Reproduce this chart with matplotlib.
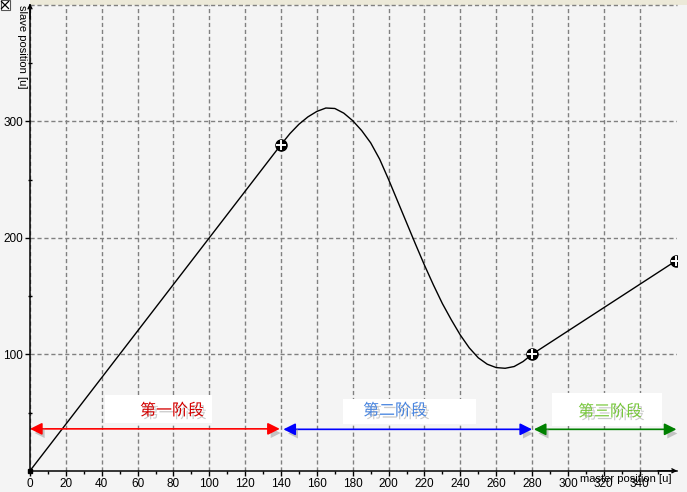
import matplotlib
matplotlib.use('Agg')
import matplotlib.pyplot as plt
from matplotlib.patches import Rectangle, FancyArrowPatch
from matplotlib.lines import Line2D
import matplotlib.patheffects as pe

# ---------------- data ----------------
stage1_x = [0, 140]
stage1_y = [0, 280]
stage2_x = [140, 145, 150, 155, 160, 165, 170, 175, 180, 185, 190, 195, 200, 205,
            210, 215, 220, 225, 230, 235, 240, 245, 250, 255, 260, 265, 270, 275, 280]
stage2_y = [280, 289.5, 297.5, 303.8, 308.5, 311.4, 311.0, 307.0, 300.5, 292, 281.5, 267.5,
            250, 231.5, 213, 194.5, 176.5, 159.5, 143.5, 129.5, 116.5, 105.5, 97, 91.5,
            88.6, 88.0, 89.5, 93.8, 100]
stage3_x = [280, 360]
stage3_y = [100, 180]
point_x = [140, 280, 360]
point_y = [280, 100, 180]

x_ticks = list(range(0, 341, 20))
x_minor = list(range(10, 351, 20))
y_ticks = [100, 200, 300]
y_minor = [50, 150, 250, 350]

stage_labels = ['第一阶段', '第二阶段', '第三阶段']
stage_start = [0, 141.3, 281]
stage_end = [139.3, 280, 360.5]
stage_arrow_y = [36, 35.6, 35.6]
stage_colors = ['#ff0000', '#0000ff', '#008000']
stage_text_colors = ['#d40000', '#4a86e0', '#78c83c']
label_x = [79.2, 203.6, 323.5]
label_y = [51.6, 51.6, 50.7]
box_x0 = [41.8, 174.4, 290.9]
box_x1 = [101.7, 249.0, 352.2]
box_y0 = [41.3, 40.2, 38.7]
box_y1 = [65.1, 61.6, 67.0]

plt.rcParams['font.family'] = ['Liberation Sans', 'Noto Sans CJK SC', 'DejaVu Sans']

W, H = 687, 492
BG = '#f4f4f4'
fig = plt.figure(figsize=(W / 100, H / 100), dpi=100, facecolor=BG)

# top beige strip and small close box
fig.add_artist(Rectangle((30 / W, 1 - 4.8 / H), 1 - 30 / W, 4.8 / H,
                         transform=fig.transFigure, facecolor='#ece9d8',
                         edgecolor='none', zorder=0))
fig.add_artist(Rectangle((0.5 / W, 1 - 9.5 / H), 9 / W, 9 / H,
                         transform=fig.transFigure, facecolor='white',
                         edgecolor='#555555', lw=0.8))
fig.add_artist(Line2D([1.5 / W, 8.5 / W], [1 - 1.5 / H, 1 - 8.5 / H],
                      transform=fig.transFigure, color='black', lw=0.9))
fig.add_artist(Line2D([1.5 / W, 8.5 / W], [1 - 8.5 / H, 1 - 1.5 / H],
                      transform=fig.transFigure, color='black', lw=0.9))

ax = fig.add_axes([30 / W, (H - 470.8) / H, 647.3 / W, 466 / H])
ax.set_facecolor(BG)
ax.set_xlim(0, 361)
ax.set_ylim(0, 400)
for s in ['top', 'right']:
    ax.spines[s].set_visible(False)
for s in ['left', 'bottom']:
    ax.spines[s].set_color('black')
    ax.spines[s].set_linewidth(1.1)

ax.set_xticks(x_ticks)
ax.set_xticks(x_minor, minor=True)
ax.set_yticks(y_ticks)
ax.set_yticks(y_minor, minor=True)
ax.tick_params(axis='both', which='major', direction='out', length=3.6,
               width=1, labelsize=8.5, colors='black', pad=1.5)
ax.tick_params(axis='x', which='minor', direction='out', length=2.2, width=1)
ax.tick_params(axis='y', which='minor', direction='inout', length=2.5, width=1)

grid_kw = dict(color='#808080', lw=1, ls=(0, (3, 2)))
ax.grid(True, which='major', **grid_kw)
ax.axhline(400, **grid_kw, clip_on=False)
ax.set_axisbelow(True)

# axis arrowheads
ax.annotate('', xy=(0, 1.003), xytext=(0, 0.97), xycoords='axes fraction',
            arrowprops=dict(arrowstyle='->', lw=1, color='black',
                            mutation_scale=7, shrinkA=0, shrinkB=0))
ax.annotate('', xy=(1.0, 0), xytext=(0.97, 0), xycoords='axes fraction',
            arrowprops=dict(arrowstyle='->', lw=1, color='black',
                            mutation_scale=7, shrinkA=0, shrinkB=0))

# curve
ax.plot(stage1_x, stage1_y, color='black', lw=1)
ax.plot(stage2_x, stage2_y, color='black', lw=1, solid_joinstyle='round')
ax.plot(stage3_x, stage3_y, color='black', lw=1)
ax.plot(point_x, point_y, 'o', ms=8, mfc='black', mec='black')
ax.plot(point_x, point_y, '+', ms=7, mec='white', mew=1.4)
ax.plot([stage1_x[0]], [stage1_y[0]], 's', ms=3, color='black', clip_on=False)

# stage boxes, labels and arrows
for i in range(3):
    ax.add_patch(Rectangle((box_x0[i], box_y0[i]), box_x1[i] - box_x0[i],
                           box_y1[i] - box_y0[i], facecolor='white',
                           edgecolor='none', zorder=3))
    ax.text(label_x[i], label_y[i], stage_labels[i], color=stage_text_colors[i],
            fontsize=11.5, ha='center', va='center', zorder=4,
            family=['Noto Sans CJK SC', 'DejaVu Sans'],
            path_effects=[pe.withSimplePatchShadow(offset=(2, -2),
                                                   shadow_rgbFace='#999999',
                                                   alpha=0.5)])
    arr = FancyArrowPatch((stage_start[i], stage_arrow_y[i]),
                          (stage_end[i], stage_arrow_y[i]),
                          arrowstyle='<|-|>', mutation_scale=18,
                          color=stage_colors[i], lw=1.2, shrinkA=0, shrinkB=0,
                          zorder=5, clip_on=False,
                          path_effects=[pe.withSimplePatchShadow(
                              offset=(2, -3), shadow_rgbFace='#888888',
                              alpha=0.45)])
    ax.add_patch(arr)

# axis titles
fig.text(672 / W, 1 - 479 / H, 'master position [u]', ha='right', va='center',
         fontsize=8)
fig.text(22 / W, 1 - 5 / H, 'slave position [u]', ha='center', va='top',
         rotation=-90, fontsize=8)

fig.savefig('out.png', dpi=100, facecolor=BG)
